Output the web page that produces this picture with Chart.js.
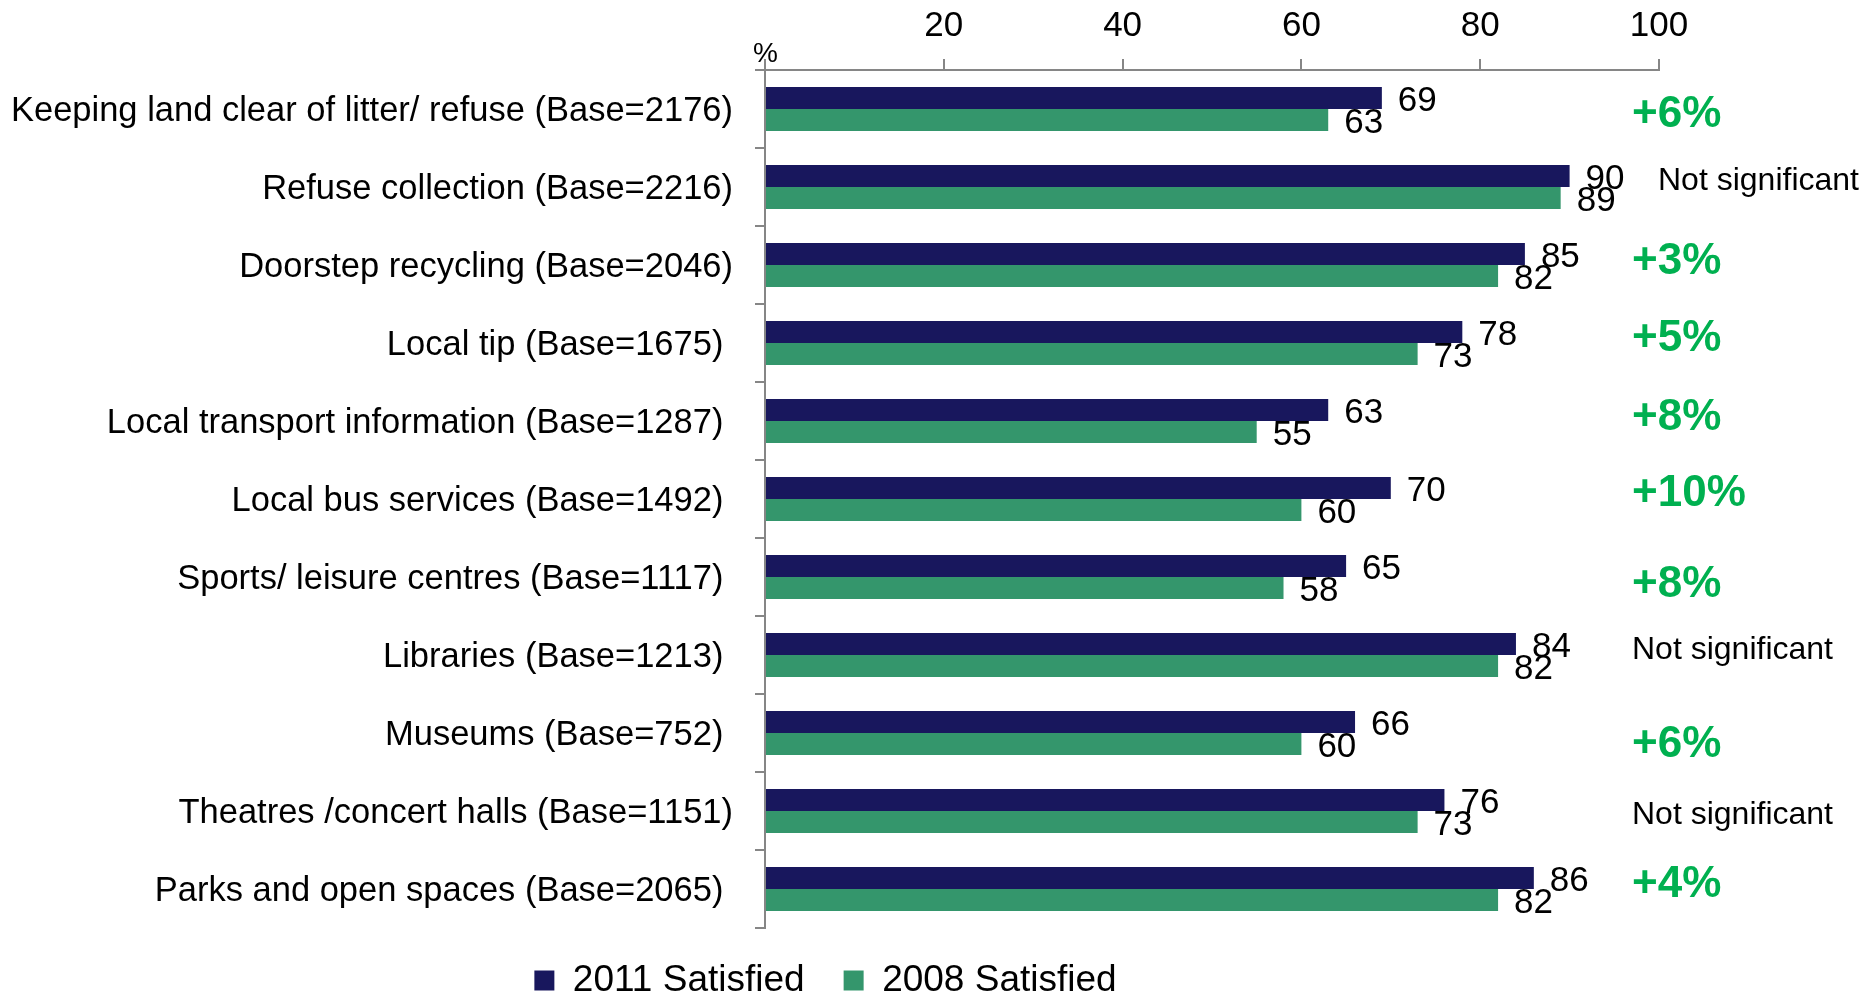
<!DOCTYPE html>
<html>
<head>
<meta charset="utf-8">
<title>Satisfaction with local services</title>
<script src="https://cdn.jsdelivr.net/npm/chart.js@4.4.1/dist/chart.umd.min.js"></script>
<style>
  html, body { margin: 0; padding: 0; background: #ffffff; }
  #wrap { width: 1867px; height: 994px; position: relative; }
</style>
</head>
<body>
<div id="wrap"><canvas id="chart" width="1867" height="994"></canvas></div>
<script>
// Services rated (some labels carry a trailing space, as in the source deck)
const services = [
  'Keeping land clear of litter/ refuse (Base=2176)',
  'Refuse collection (Base=2216)',
  'Doorstep recycling (Base=2046)',
  'Local tip (Base=1675) ',
  'Local transport information (Base=1287) ',
  'Local bus services (Base=1492) ',
  'Sports/ leisure centres (Base=1117) ',
  'Libraries (Base=1213) ',
  'Museums (Base=752) ',
  'Theatres /concert halls (Base=1151)',
  'Parks and open spaces (Base=2065) '
];

// Percentage satisfied
const satisfied2011 = [69, 90, 85, 78, 63, 70, 65, 84, 66, 76, 86];
const satisfied2008 = [63, 89, 82, 73, 55, 60, 58, 82, 60, 73, 82];

// Change 2008 -> 2011 and significance
const changeNotes = ['+6%', 'Not significant', '+3%', '+5%', '+8%', '+10%', '+8%',
                     'Not significant', '+6%', 'Not significant', '+4%'];

// Percentage axis
const axisMin = 0;
const axisMax = 100;
const axisStep = 20;

const FONT = '"Liberation Sans", Arial, Helvetica, sans-serif';
const NAVY = '#18175D';
const GREEN = '#34966C';
const AXIS_GREY = '#868686';

// Small vertical/horizontal nudges for the note column, per row (px)
const noteNudgeY = [6, -6, -3, -4, -3, -5, 8, -5, 12, 4, -4];
const noteNudgeX = [0, 26, 0, 0, 0, 0, 0, 0, 0, 0, 0];

// Value labels at the end of each bar
const valueLabels = {
  id: 'valueLabels',
  afterDatasetsDraw(chart) {
    const ctx = chart.ctx;
    ctx.save();
    ctx.font = '35px ' + FONT;
    ctx.fillStyle = '#000000';
    ctx.textAlign = 'left';
    ctx.textBaseline = 'middle';
    chart.data.datasets.forEach((ds, di) => {
      chart.getDatasetMeta(di).data.forEach((bar, i) => {
        ctx.fillText(String(ds.data[i]), bar.x + 16, bar.y + 3);
      });
    });
    ctx.restore();
  }
};

// Change / significance notes to the right of the plot, plus the "%" unit
const sideNotes = {
  id: 'sideNotes',
  afterDraw(chart) {
    const ctx = chart.ctx;
    const yScale = chart.scales.y;
    const xScale = chart.scales.x;
    const baseX = chart.chartArea.right - 27;
    ctx.save();
    ctx.textAlign = 'left';
    ctx.textBaseline = 'middle';
    changeNotes.forEach((note, i) => {
      const isChange = note.charAt(0) === '+';
      ctx.font = isChange ? 'bold 44px ' + FONT : '32px ' + FONT;
      ctx.fillStyle = isChange ? '#00B050' : '#000000';
      const y = yScale.getPixelForValue(i) + noteNudgeY[i];
      ctx.fillText(note, baseX + noteNudgeX[i], y);
    });
    // unit marker at the origin of the percentage axis
    ctx.font = '28px ' + FONT;
    ctx.fillStyle = '#000000';
    ctx.fillText('%', xScale.getPixelForValue(axisMin) - 12, xScale.bottom - 16);
    ctx.restore();
  }
};

// Place the legend a little left of centre, close to the bottom edge
const legendPlacement = {
  id: 'legendPlacement',
  afterLayout(chart) {
    const lg = chart.legend;
    if (!lg) return;
    lg.left -= 4; lg.right -= 4;
    lg.top -= 5; lg.bottom -= 5;
  }
};

new Chart(document.getElementById('chart'), {
  type: 'bar',
  data: {
    labels: services,
    datasets: [
      { label: '2011 Satisfied', data: satisfied2011, backgroundColor: NAVY, borderWidth: 0 },
      { label: '2008 Satisfied', data: satisfied2008, backgroundColor: GREEN, borderWidth: 0 }
    ]
  },
  options: {
    indexAxis: 'y',
    responsive: false,
    animation: false,
    events: [],
    layout: { padding: { left: 0, right: 208, top: 0, bottom: -20 } },
    datasets: { bar: { categoryPercentage: 0.564, barPercentage: 1.0 } },
    scales: {
      x: {
        position: 'top',
        min: axisMin,
        max: axisMax,
        ticks: {
          stepSize: axisStep,
          color: '#000000',
          font: { family: FONT, size: 35 },
          padding: 12,
          callback: (v) => (v === axisMin ? '' : v)
        },
        grid: { drawOnChartArea: false, drawTicks: true, tickLength: 11, color: AXIS_GREY, lineWidth: 2 },
        border: { display: true, color: AXIS_GREY, width: 2 },
        afterFit: (scale) => { scale.height = 70; }
      },
      y: {
        ticks: {
          color: '#000000',
          font: { family: FONT, size: 34.5 },
          padding: 22,
          labelOffset: 2,
          autoSkip: false
        },
        grid: { drawOnChartArea: false, drawTicks: true, tickLength: 10, color: AXIS_GREY, lineWidth: 2, offset: true },
        border: { display: true, color: AXIS_GREY, width: 2 },
        afterFit: (scale) => { scale.width = 765; }
      }
    },
    plugins: {
      tooltip: { enabled: false },
      legend: {
        position: 'bottom',
        labels: {
          color: '#000000',
          font: { family: FONT, size: 37 },
          boxWidth: 20,
          boxHeight: 20,
          padding: 39
        }
      }
    }
  },
  plugins: [valueLabels, sideNotes, legendPlacement]
});
</script>
</body>
</html>
